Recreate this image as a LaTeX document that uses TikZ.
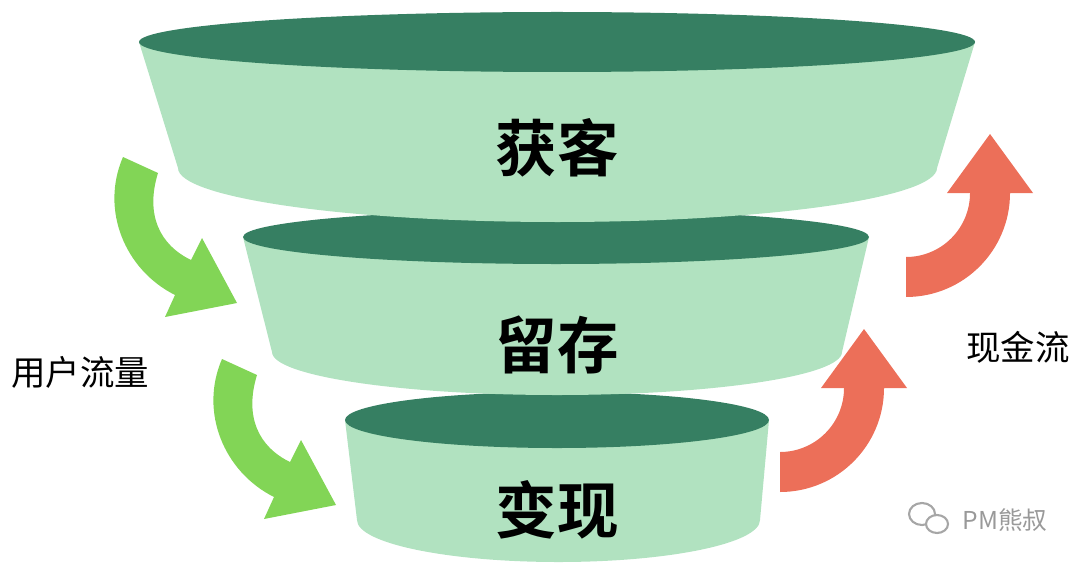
\documentclass[tikz,border=0pt]{standalone}
\usepackage{fontspec}
\newfontfamily\cjk{Noto Sans CJK SC}
\newfontfamily\cjkbold{Noto Sans CJK SC Bold}
\usetikzlibrary{positioning}
\definecolor{tierlight}{HTML}{B1E2C0}
\definecolor{tierdark}{HTML}{367F62}
\definecolor{flowgreen}{HTML}{82D556}
\definecolor{cashred}{HTML}{EC6F59}

\begin{document}
\begin{tikzpicture}[
    x=0.01cm, y=-0.01cm,
    tierlabel/.style={font=\cjkbold\fontsize{17.5}{17.5}\selectfont},
    sidelabel/.style={font=\cjk\fontsize{9.8}{9.8}\selectfont},
    pics/flowarrow/.style={code={
        \fill[flowgreen] (123,157) -- (158,173)
            .. controls (145,215) and (160,245) .. (191,260)
            -- (202,238) -- (237,303) -- (165,317) -- (175,295)
            .. controls (125,270) and (100,210) .. (123,157) -- cycle;}},
    pics/casharrow/.style={code={
        \fill[cashred] (906,297) arc[start angle=90, end angle=0, radius=104]
            -- (1033,193) -- (990,134) -- (947,193) -- (970,193)
            arc[start angle=0, end angle=90, radius=64] -- cycle;}}
]
    \useasboundingbox (0,0) rectangle (1080,570);

    % Bottom tier
    \fill[tierlight] (345,420) -- (357,520)
        arc[start angle=180, end angle=0, x radius=201.5, y radius=42]
        -- (769,420) -- cycle;
    \fill[tierdark] (557,420) ellipse[x radius=212, y radius=28];

    % Middle tier
    \fill[tierlight] (243,237) -- (272,352)
        arc[start angle=180, end angle=0, x radius=285, y radius=43]
        -- (869,237) -- cycle;
    \fill[tierdark] (556,237) ellipse[x radius=313, y radius=27];

    % Top tier
    \fill[tierlight] (139,42) -- (178,168)
        arc[start angle=180, end angle=0, x radius=379.5, y radius=54]
        -- (975,42) -- cycle;
    \fill[tierdark] (557,42) ellipse[x radius=418, y radius=30];

    % Tier labels
    \node[tierlabel] (acquire) at (557,148) {获客};
    \node[tierlabel] (retain) at (557,345) {留存};
    \node[tierlabel] (monetize) at (557,510) {变现};

    % Arrows
    \pic at (0,0) {flowarrow};
    \pic at (99,202) {flowarrow};
    \pic at (0,0) {casharrow};
    \pic at (-126,195) {casharrow};

    % Side labels
    \node[sidelabel] (traffic) at (80,372) {用户流量};
    \node[sidelabel] (cashflow) at (1018,347) {现金流};

    % Watermark
    \draw[gray!70, line width=0.6pt] (922,514) ellipse[x radius=13, y radius=11];
    \draw[gray!70, line width=0.6pt, fill=white] (937,524) ellipse[x radius=11, y radius=9];
    \node[font=\cjk\fontsize{7}{7}\selectfont, text=gray!80, anchor=west] (mark) at (950,520) {PM熊叔};
\end{tikzpicture}
\end{document}
